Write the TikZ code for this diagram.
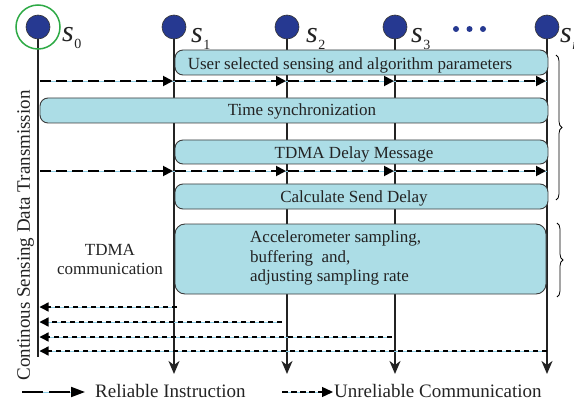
\documentclass[tikz,border=0pt]{standalone}
\usepackage{fontspec}
\setmainfont{Liberation Serif}
\usetikzlibrary{arrows.meta,decorations.pathreplacing}
\definecolor{boxblue}{RGB}{172,221,230}
\definecolor{navy}{RGB}{38,57,145}
\definecolor{ringgreen}{RGB}{46,170,70}
\definecolor{edgegray}{RGB}{60,60,60}
\definecolor{gapblue}{RGB}{140,205,230}
\definecolor{inkgray}{RGB}{35,35,35}
\newcommand{\slab}[1]{{\fontsize{30}{30}\selectfont\itshape s}\kern0.5pt{\fontsize{14}{14}\selectfont\raisebox{-7pt}{#1}}}
\begin{document}
\begin{tikzpicture}[x=1pt,y=-1pt,
  life/.style={line width=2.2pt, draw=inkgray},
  lifearrow/.style={life, -{Stealth[length=13pt,width=11pt,inset=4pt]}},
  station/.style={circle, fill=navy, draw=black!80, line width=0.6pt, minimum size=24pt, inner sep=0pt},
  msgbox/.style={draw=edgegray, fill=boxblue, line width=0.9pt, rounded corners=8pt, inner sep=0pt},
  txt/.style={font=\fontsize{17}{19}\selectfont, inner sep=0pt, text=inkgray},
  bigtxt/.style={font=\fontsize{19}{21}\selectfont, inner sep=0pt, text=inkgray},
  under/.style={draw=gapblue, line width=0.8pt},
  rel/.style={draw=black, line width=1.9pt, dash pattern=on 11pt off 5pt, -{Triangle[length=10pt,width=10pt]}},
  unrel/.style={draw=black, line width=1.4pt, dash pattern=on 5.5pt off 3.5pt, -{Triangle[length=9pt,width=9pt]}},
  bracestyle/.style={draw=black, line width=0.8pt, decorate, decoration={brace, amplitude=6pt}},
  slabel/.style={inner sep=0pt, anchor=base west, text=inkgray}
]
\useasboundingbox (0,0) rectangle (574,404);

% station positions
\coordinate (p0) at (38,27);
\coordinate (p1) at (174,27);
\coordinate (p2) at (287,27);
\coordinate (p3) at (395,27);
\coordinate (pn) at (547,27);
% end levels
\coordinate (e0) at (0,357);
\coordinate (ea) at (0,374);

% lifelines
\draw[life, line width=2.5pt] (p0) -- (p0 |- e0);
\draw[lifearrow] (p1) -- (p1 |- ea);
\draw[lifearrow] (p2) -- (p2 |- ea);
\draw[lifearrow] (p3) -- (p3 |- ea);
\draw[lifearrow] (pn) -- (pn |- ea);

% stations
\node[circle, draw=ringgreen, line width=1.5pt, minimum size=44pt, inner sep=0pt] (ring) at (p0) {};
\node[station] (s0) at (p0) {};
\node[station] (s1) at (p1) {};
\node[station] (s2) at (p2) {};
\node[station] (s3) at (p3) {};
\node[station] (sn) at (pn) {};
\node[slabel] (l0) at (62,42) {\slab{0}};
\node[slabel] (l1) at (191,43) {\slab{1}};
\node[slabel] (l2) at (306,43) {\slab{2}};
\node[slabel] (l3) at (411,43) {\slab{3}};
\node[slabel] (ln) at (560,43) {\slab{\itshape n}};
\fill[navy] (456,29) circle (3pt) (469.5,29) circle (3pt) (483,29) circle (3pt);

% boxes
\node[msgbox, minimum width=373pt, minimum height=25pt] (b1) at (361.5,62.5) {};
\node[msgbox, minimum width=508pt, minimum height=25pt] (b2) at (294,110.5) {};
\node[msgbox, minimum width=373pt, minimum height=24pt] (b3) at (361.5,152) {};
\node[msgbox, minimum width=373pt, minimum height=25pt] (b4) at (361.5,196.5) {};
\node[msgbox, minimum width=371pt, minimum height=70pt, rounded corners=10pt] (b5) at (360.5,259) {};

\node[txt, anchor=base] (t1) at (350,70) {User selected sensing and algorithm parameters};
\node[txt, anchor=base] (t2) at (302,116) {Time synchronization};
\node[txt, anchor=base] (t3) at (354,158) {TDMA Delay Message};
\node[txt, anchor=base] (t4) at (354,203) {Calculate Send Delay};
\node[txt, anchor=base west] (t5a) at (250,243) {Accelerometer sampling,};
\node[txt, anchor=base west] (t5b) at (250,262) {buffering\ \ and,};
\node[txt, anchor=base west] (t5c) at (250,281) {adjusting sampling rate};

\node[txt, anchor=base] (tdma1) at (110,255) {TDMA};
\node[txt, anchor=base] (tdma2) at (110,274) {communication};

\node[bigtxt, rotate=90, anchor=base] (side) at (30,235.5) {Continous Sensing Data Transmission};

% reliable instruction rows
\coordinate (r1) at (0,81);
\coordinate (r2) at (0,171);
\foreach \r in {r1,r2}{
  \draw[under] ([xshift=2pt]s0.center |- \r) -- (sn.center |- \r);
  \draw[rel] ([xshift=2pt]s0.center |- \r) -- ([xshift=-1pt]s1.center |- \r);
  \draw[rel] ([xshift=1pt]s1.center |- \r) -- ([xshift=-1pt]s2.center |- \r);
  \draw[rel] ([xshift=1pt]s2.center |- \r) -- ([xshift=-1pt]s3.center |- \r);
  \draw[rel] ([xshift=1pt]s3.center |- \r) -- ([xshift=-1pt]sn.center |- \r);
}

% unreliable communication rows
\coordinate (u1) at (0,307);
\coordinate (u2) at (0,322);
\coordinate (u3) at (0,337);
\coordinate (u4) at (0,351);
\draw[under] ([xshift=3pt]s1.center |- u1) -- ([xshift=2pt]s0.center |- u1);
\draw[unrel] ([xshift=3pt]s1.center |- u1) -- ([xshift=1.5pt]s0.center |- u1);
\draw[under] ([xshift=-5pt]s2.center |- u2) -- ([xshift=2pt]s0.center |- u2);
\draw[unrel] ([xshift=-5pt]s2.center |- u2) -- ([xshift=1.5pt]s0.center |- u2);
\draw[under] ([xshift=-3pt]s3.center |- u3) -- ([xshift=2pt]s0.center |- u3);
\draw[unrel] ([xshift=-3pt]s3.center |- u3) -- ([xshift=1.5pt]s0.center |- u3);
\draw[under] (sn.center |- u4) -- ([xshift=2pt]s0.center |- u4);
\draw[unrel] (sn.center |- u4) -- ([xshift=1.5pt]s0.center |- u4);

% braces
\draw[bracestyle] (556,55) -- (556,200);
\draw[bracestyle] (557,223) -- (557,297);

% legend
\coordinate (la) at (22,392);
\coordinate (lb) at (85,392);
\coordinate (lc) at (282,392);
\coordinate (ld) at (333,392);
\draw[under] (la) -- ([xshift=-10pt]lb);
\draw[draw=black, line width=1.9pt, dash pattern=on 21pt off 6pt, -{Triangle[length=14pt,width=10pt]}] (la) -- (lb);
\node[bigtxt, anchor=base west] (leg1) at (95,397) {Reliable Instruction};
\draw[under] (lc) -- ([xshift=-8pt]ld);
\draw[unrel, -{Triangle[length=11pt,width=10pt]}] (lc) -- (ld);
\node[bigtxt, anchor=base west] (leg2) at (334,397) {Unreliable Communication};
\end{tikzpicture}
\end{document}
